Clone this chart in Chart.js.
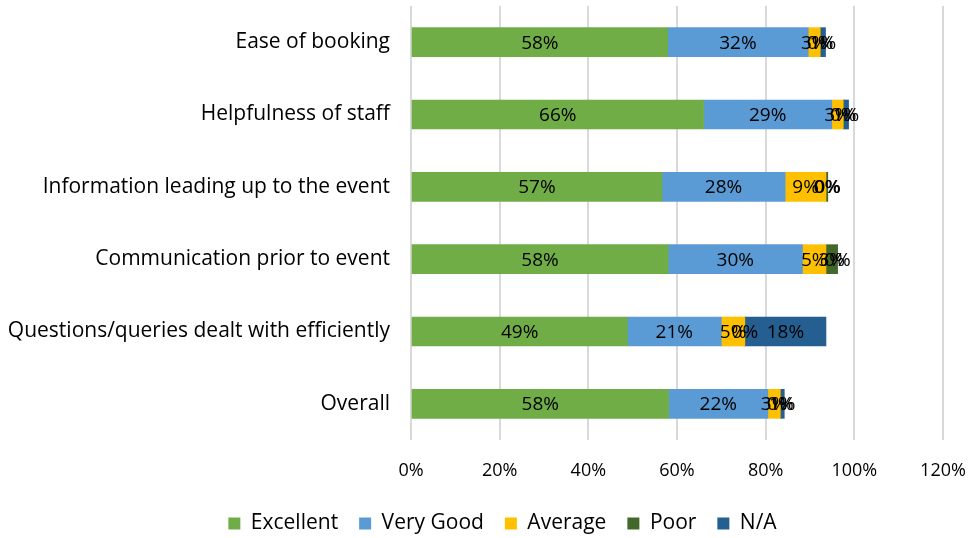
<!DOCTYPE html>
<html>
<head>
<meta charset="utf-8">
<script src="https://cdn.jsdelivr.net/npm/chart.js@4/dist/chart.umd.min.js"></script>
<style>
  html, body { margin: 0; padding: 0; background: #fff; }
  #wrap { width: 970px; height: 538px; }
</style>
</head>
<body>
<div id="wrap"><canvas id="ratingChart" width="970" height="538"></canvas></div>
<script>
// survey ratings, percent of respondents
const categories = [
  "Ease of booking",
  "Helpfulness of staff",
  "Information leading up to the event",
  "Communication prior to event",
  "Questions/queries dealt with efficiently",
  "Overall"
];
const excellent = [57.9, 66.0, 56.6, 58.0, 48.8, 58.1];
const veryGood  = [31.7, 28.9, 27.8, 30.3, 21.2, 22.4];
const average   = [2.7, 2.6, 9.2, 5.3, 5.3, 2.8];
const poor      = [0, 0, 0.4, 2.6, 0, 0];
const notApplicable = [1.2, 1.2, 0, 0, 18.3, 0.9];
const xTicks = [0, 20, 40, 60, 80, 100, 120];

const FONT = "'Open Sans'";

// draws the value labels in the middle of each stacked segment
const segmentLabels = {
  id: "segmentLabels",
  afterDatasetsDraw(chart) {
    const ctx = chart.ctx;
    ctx.save();
    ctx.font = "19px " + FONT;
    ctx.fillStyle = "#000";
    ctx.textAlign = "center";
    ctx.textBaseline = "middle";
    chart.data.datasets.forEach((ds, i) => {
      const meta = chart.getDatasetMeta(i);
      if (meta.hidden) return;
      meta.data.forEach((bar, j) => {
        const v = ds.data[j];
        const cx = (bar.x + bar.base) / 2;
        ctx.fillText(Math.round(v) + "%", cx, bar.y + 1);
      });
    });
    ctx.restore();
  }
};

// fixed legend strip height, and centre it a bit further right like the original
const legendTweak = {
  id: "legendTweak",
  beforeLayout(chart) {
    const lg = chart.legend;
    if (!lg || lg._patched) return;
    const fit = lg.fit;
    lg.fit = function () { fit.call(this); this.height = 46; };
    lg._patched = true;
  },
  afterLayout(chart) {
    const lg = chart.legend;
    if (!lg) return;
    lg.left += 31;
    lg.right += 31;
  }
};

const ctx = document.getElementById("ratingChart").getContext("2d");
new Chart(ctx, {
  type: "bar",
  data: {
    labels: categories,
    datasets: [
      { label: "Excellent", data: excellent, backgroundColor: "#70AD47" },
      { label: "Very Good", data: veryGood, backgroundColor: "#5B9BD5" },
      { label: "Average", data: average, backgroundColor: "#FFC000" },
      { label: "Poor", data: poor, backgroundColor: "#43682B" },
      { label: "N/A", data: notApplicable, backgroundColor: "#255E91" }
    ]
  },
  options: {
    indexAxis: "y",
    responsive: false,
    animation: false,
    layout: { padding: { top: 6, right: 27, left: 0, bottom: 0 } },
    datasets: { bar: { barThickness: 29, borderWidth: 0 } },
    scales: {
      x: {
        stacked: true,
        min: 0,
        max: 120,
        afterBuildTicks: scale => { scale.ticks = xTicks.map(v => ({ value: v })); },
        ticks: {
          callback: v => v + "%",
          font: { family: FONT, size: 18 },
          color: "#000",
          padding: 20
        },
        grid: { color: "#d9d9d9", lineWidth: 2, drawTicks: false },
        border: { display: false },
        afterFit: scale => {
          scale.height = 52;
          scale.paddingLeft = 0;
          scale.paddingRight = 0;
        }
      },
      y: {
        stacked: true,
        ticks: {
          font: { family: FONT, size: 21 },
          color: "#000",
          padding: 21
        },
        grid: { display: false, drawTicks: false },
        border: { display: false },
        afterFit: scale => {
          scale.width = 411;
          scale.paddingTop = 0;
          scale.paddingBottom = 0;
        }
      }
    },
    plugins: {
      legend: {
        position: "bottom",
        labels: {
          font: { family: FONT, size: 21 },
          color: "#000",
          boxWidth: 12,
          boxHeight: 12,
          padding: 21
        }
      },
      tooltip: { enabled: false }
    }
  },
  plugins: [segmentLabels, legendTweak]
});
</script>
</body>
</html>
